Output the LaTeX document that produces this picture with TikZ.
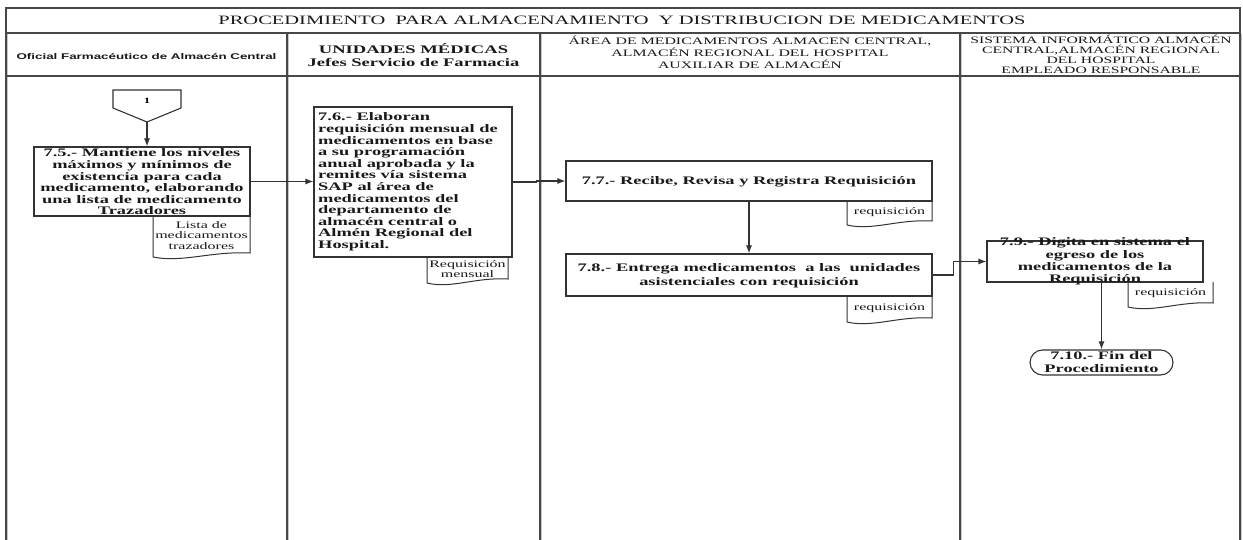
\documentclass[tikz,border=0pt]{standalone}
\usepackage{fontspec}
\setmainfont{Liberation Serif}[FakeStretch=1.6]
\setsansfont{Liberation Sans}[FakeStretch=1.6]
\usetikzlibrary{arrows.meta}

% document symbol: rectangle with a wavy bottom edge and a label inside
\newcommand\docsymbol[6]{% x1, ytop, x2, ybottom, name, text
  \draw[docline] (#1,#2) -- (#1,#4)
    .. controls ({#1+0.3*(#3-#1)},{#4+6}) and ({#1+0.6*(#3-#1)},{#4-6}) .. (#3,{#4-4})
    -- (#3,#2);
  \node[doctext] (#5) at ({(#1+#3)/2},{(#2+#4)/2-1}) {#6};
}

\begin{document}
\begin{tikzpicture}[x=1pt,y=-1pt,
  frame/.style={draw=black!72, line width=1.3pt},
  frameshade/.style={draw=black!22, line width=1pt},
  stepbox/.style={draw=black!80, line width=1.1pt, inner sep=0pt},
  steptext/.style={font=\bfseries\fontsize{11.5}{11.6}\selectfont, inner sep=0pt, text=black!90},
  docline/.style={draw=black!80, line width=1pt},
  doctext/.style={font=\fontsize{10}{10.5}\selectfont, align=center, inner sep=0pt, text=black!90},
  headtext/.style={align=center, inner sep=0pt, text=black!90},
  flow/.style={draw=black!80, line width=1.1pt, -{Latex[length=8pt,width=6pt]}},
]
\useasboundingbox (0,0) rectangle (1243,540);

% ---- swimlane frame ----
\foreach \x in {7.5,288.5,541.5,961.5,1241.5}
  \draw[frameshade] (\x,34) -- (\x,540);
\draw[frame] (6,540) -- (6,8) -- (1240,8) -- (1240,540);
\draw[frame] (6,33) -- (1240,33);
\draw[frame] (6,76) -- (1240,76);
\foreach \x in {287,540,960}
  \draw[frame] (\x,33) -- (\x,540);

% ---- title and lane headers ----
\node[headtext, font=\fontsize{12.8}{15}\selectfont] (title) at (622,20)
  {PROCEDIMIENTO\ \ PARA ALMACENAMIENTO\ \ Y DISTRIBUCION DE MEDICAMENTOS};
\node[headtext, font=\sffamily\bfseries\fontsize{8.35}{10}\selectfont] (lane1) at (146.5,56)
  {Oficial Farmacéutico de Almacén Central};
\node[headtext, font=\bfseries\fontsize{11.6}{13}\selectfont] (lane2) at (413.5,55.5)
  {UNIDADES MÉDICAS\\Jefes Servicio de Farmacia};
\node[headtext, font=\fontsize{9.9}{12}\selectfont] (lane3) at (750,52)
  {ÁREA DE MEDICAMENTOS ALMACEN CENTRAL,\\ALMACÉN REGIONAL DEL HOSPITAL\\AUXILIAR DE ALMACÉN};
\node[headtext, font=\fontsize{9.8}{9.8}\selectfont] (lane4) at (1101,54.5)
  {SISTEMA INFORMÁTICO ALMACÉN\\CENTRAL,ALMACÉN REGIONAL\\DEL HOSPITAL\\EMPLEADO RESPONSABLE};

% ---- off-page connector ----
\draw[stepbox] (113,90) -- (181,90) -- (181,108) -- (147,122) -- (113,108) -- cycle;
\node[font=\bfseries\fontsize{8}{9}\selectfont, inner sep=0pt] (c1) at (147,101) {1};
\coordinate (c1tip) at (147,122);

% ---- process steps ----
\node[stepbox, minimum width=216pt, minimum height=69pt] (b75) at (142,181.5) {};
\node[steptext, align=center] (t75) at (142,182)
  {7.5.- Mantiene los niveles\\máximos y mínimos de\\existencia para cada\\medicamento, elaborando\\una lista de medicamento\\Trazadores};

\node[stepbox, minimum width=198pt, minimum height=150pt] (b76) at (413,182) {};
\node[steptext, align=left, anchor=west] (t76) at (318,182)
  {7.6.- Elaboran\\requisición mensual de\\medicamentos en base\\a su programación\\anual aprobada y la\\remites vía sistema\\SAP al área de\\medicamentos del\\departamento de\\almacén central o\\Almén Regional del\\Hospital.};

\node[stepbox, minimum width=366pt, minimum height=40pt] (b77) at (749,181) {};
\node[steptext, align=center] (t77) at (749,182)
  {7.7.- Recibe, Revisa y Registra Requisición};

\node[stepbox, minimum width=366pt, minimum height=42pt] (b78) at (749,275) {};
\node[steptext, align=center, font=\bfseries\fontsize{11.5}{14}\selectfont] (t78) at (749,276)
  {7.8.- Entrega medicamentos\ \ a las\ \ unidades\\asistenciales con requisición};

\node[stepbox, minimum width=216pt, minimum height=41pt] (b79) at (1095,261.5) {};
\node[steptext, align=center, font=\bfseries\fontsize{11.5}{12.2}\selectfont] (t79) at (1095,261.5)
  {7.9.- Digita en sistema el\\egreso de los\\medicamentos de la\\Requisición};

\node[stepbox, minimum width=143pt, minimum height=25pt, rounded corners=12.5pt,
      steptext, align=center, font=\bfseries\fontsize{11.5}{13}\selectfont] (fin) at (1101.5,362.5)
  {7.10.- Fin del\\Procedimiento};

% ---- documents ----
\docsymbol{153}{216}{250}{257}{d75}{Lista de\\medicamentos\\trazadores}
\docsymbol{427}{257}{508}{283}{d76}{Requisición\\mensual}
\docsymbol{847}{201}{932}{225}{d77}{requisición}
\docsymbol{847}{296}{932}{322}{d78}{requisición}
\docsymbol{1128}{282}{1213}{307}{d79}{requisición}

% ---- flow ----
\draw[flow] (c1tip) -- (c1tip |- b75.north);
\draw[flow] (b75.east) -- (b75.east -| b76.west);
\draw[flow] (b76.east) -- ++(24,0) |- (b77.west);
\draw[flow] (b77.south) -- (b78.north);
\draw[flow] (b78.east) -- ++(21,0) |- (b79.west);
\draw[flow] (fin.north |- b79.south) -- (fin.north);
\end{tikzpicture}
\end{document}
